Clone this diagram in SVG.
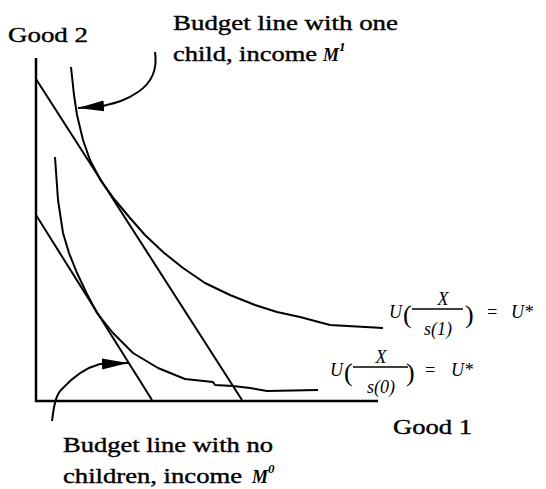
<svg xmlns="http://www.w3.org/2000/svg" width="546" height="489" viewBox="0 0 546 489">
<style>
.lbl{font-family:"Liberation Serif",serif;font-size:22px;fill:#000;stroke:#000;stroke-width:0.4}
.eq{font-family:"Liberation Serif",serif;font-style:italic;font-size:18px;fill:#000}
.par{font-family:"Liberation Serif",serif;font-size:26px;fill:#000}
.ln{fill:none;stroke:#000;stroke-width:2;stroke-linejoin:round;stroke-linecap:butt}
.ax{fill:none;stroke:#000;stroke-width:2.5}
</style>
<defs>
<marker id="ah" markerWidth="26" markerHeight="12" refX="26" refY="6" orient="auto" markerUnits="userSpaceOnUse">
<polygon points="0,0.5 26,6 0,11.5" fill="#000"/>
</marker>
</defs>
<rect width="546" height="489" fill="#fff"/>
<g id="axes">
<polyline class="ax" points="36,58 36,401 378,401"/>
</g>
<g id="connectors">
<line id="budget-one-child" class="ln" x1="36" y1="79" x2="242" y2="400"/>
<line id="budget-no-children" class="ln" x1="36" y1="215" x2="152" y2="400"/>
<polyline id="indiff-one-child" class="ln" points="71,67 74,95 77,115 83,140 90,160 101,181 115,200 130,218 145,235 163,252 183,268 205,283 230,295 255,305 277,312 300,317 330,325 383,328"/>
<polyline id="indiff-no-children" class="ln" points="55,157 58,200 63,233 69,253 77,273 87,294 97,313 113,333 133,353 158,368 185,379 213,382 215,385 233,386 250,388 267,391 318,390"/>
<path id="arrow-top" class="ln" d="M155,52 C158,72 150,84 138,92 C125,101 115,103 103,106 L78,108" marker-end="url(#ah)"/>
<path id="arrow-bottom" class="ln" d="M52,421 C54,405 56,394 62,389 C72,378 85,368 100,364 L128,363" marker-end="url(#ah)"/>
</g>
<g id="label-good2"><text class="lbl" x="8" y="42" textLength="80" lengthAdjust="spacingAndGlyphs">Good 2</text></g>
<g id="label-good1"><text class="lbl" x="393" y="434" textLength="79" lengthAdjust="spacingAndGlyphs">Good 1</text></g>
<g id="label-top">
<text class="lbl" x="173" y="30" textLength="225" lengthAdjust="spacingAndGlyphs">Budget line with one</text>
<text class="lbl" x="173" y="61" textLength="144" lengthAdjust="spacingAndGlyphs">child, income</text>
<text class="eq" x="323" y="61" font-size="22" font-weight="bold">M<tspan font-size="13" dy="-10">1</tspan></text>
</g>
<g id="label-bottom">
<text class="lbl" x="63" y="452" textLength="210" lengthAdjust="spacingAndGlyphs">Budget line with no</text>
<text class="lbl" x="63" y="483" textLength="179" lengthAdjust="spacingAndGlyphs">children, income</text>
<text class="eq" x="252" y="483" font-size="22" font-weight="bold">M<tspan font-size="13" dy="-10">0</tspan></text>
</g>
<g id="eq-top">
<text class="eq" x="389" y="318">U</text>
<text class="par" x="403" y="323">(</text>
<text class="eq" x="443" y="305" text-anchor="middle" font-size="15">X</text>
<line x1="412" y1="309" x2="463" y2="309" stroke="#000" stroke-width="1.5"/>
<text class="eq" x="438" y="335" text-anchor="middle">s(1)</text>
<text class="par" x="465" y="323">)</text>
<text class="eq" x="486" y="318" font-style="normal">=</text>
<text class="eq" x="511" y="318">U*</text>
</g>
<g id="eq-bottom">
<text class="eq" x="330" y="376">U</text>
<text class="par" x="344" y="381">(</text>
<text class="eq" x="381" y="363" text-anchor="middle" font-size="15">X</text>
<line x1="353" y1="367" x2="408" y2="367" stroke="#000" stroke-width="1.5"/>
<text class="eq" x="381" y="393" text-anchor="middle">s(0)</text>
<text class="par" x="406" y="381">)</text>
<text class="eq" x="424" y="376" font-style="normal">=</text>
<text class="eq" x="451" y="376">U*</text>
</g>
</svg>
